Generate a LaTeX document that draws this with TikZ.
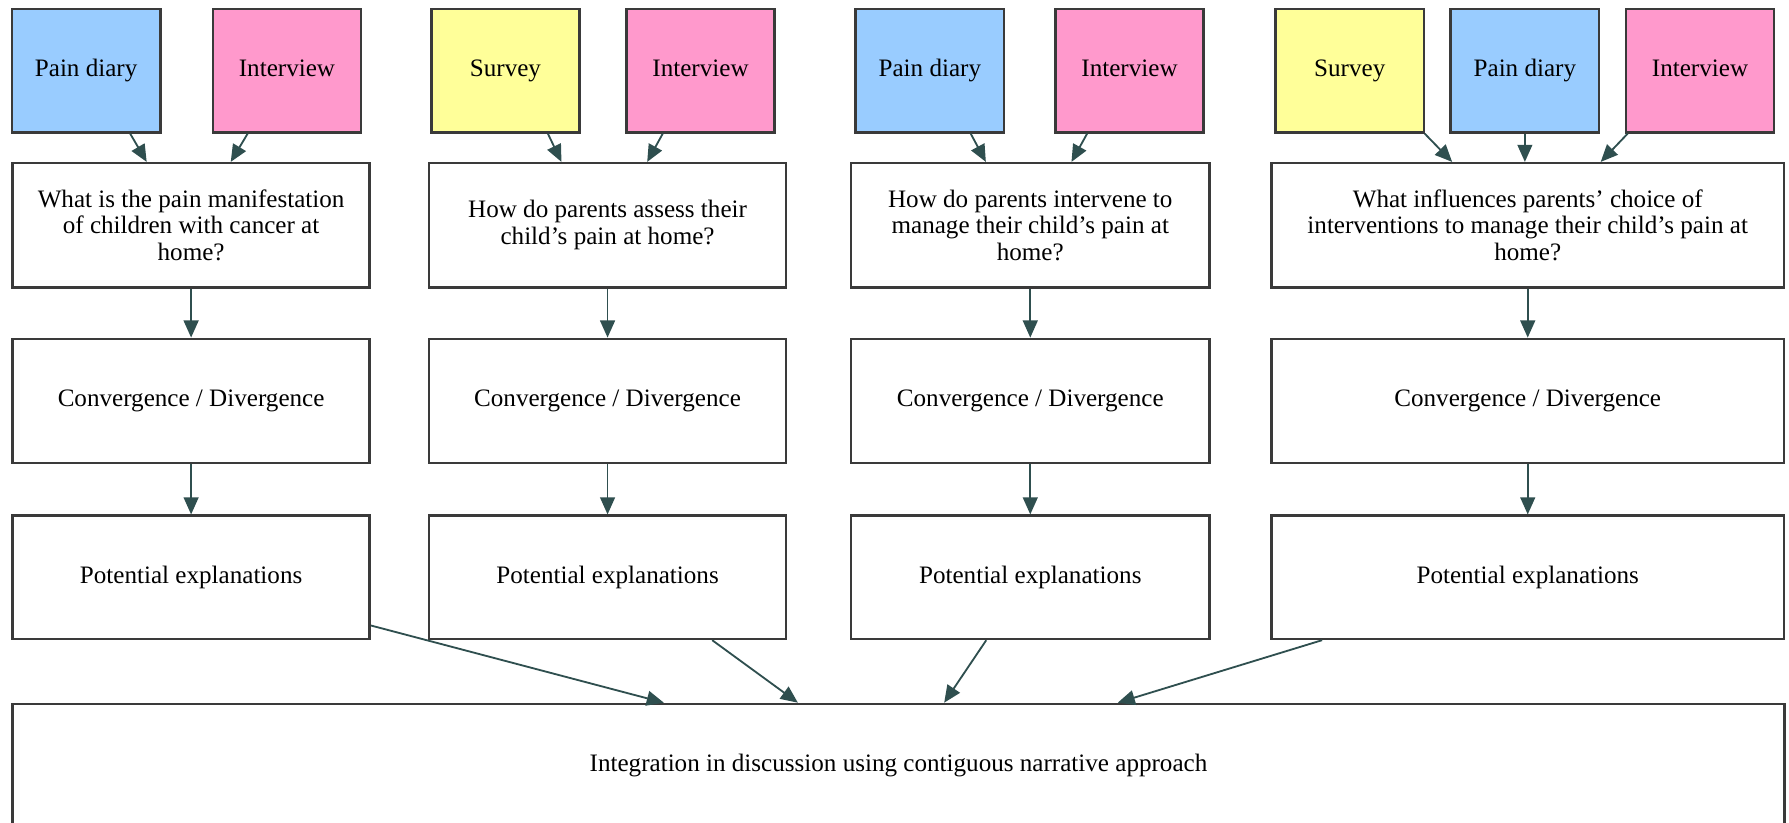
\documentclass[tikz,border=0pt]{standalone}
\usepackage{fontspec}
\setmainfont{Liberation Serif}
\usetikzlibrary{arrows.meta,positioning}
\definecolor{diaryblue}{HTML}{99CCFF}
\definecolor{interviewpink}{HTML}{FF99CC}
\definecolor{surveyyellow}{HTML}{FFFF99}
\definecolor{boxline}{HTML}{3A3A3A}
\definecolor{arrowslate}{HTML}{2F4F4F}

\tikzset{
box/.style={draw=boxline, line width=1.1pt, fill=white, align=center, inner sep=0pt,
  font=\fontsize{11}{11.75}\selectfont},
src/.style={box, minimum width=65pt, minimum height=54pt, text height=7.5pt, text depth=2.5pt},
diary/.style={src, fill=diaryblue},
interview/.style={src, fill=interviewpink},
survey/.style={src, fill=surveyyellow},
conn/.style={draw=arrowslate, line width=0.8pt, -{Triangle[length=7.5pt,width=6.5pt]}}
}

\begin{document}
\begin{tikzpicture}[x=0.5pt,y=-0.5pt]

\useasboundingbox (0,0) rectangle (1568,721);

\node[diary] (pd1) at (75.5,62) {Pain diary};
\node[interview] (iv1) at (251.5,62) {Interview};
\node[survey] (sv2) at (443,62) {Survey};
\node[interview] (iv2) at (614,62) {Interview};
\node[diary] (pd3) at (815,62) {Pain diary};
\node[interview] (iv3) at (990,62) {Interview};
\node[survey] (sv4) at (1183,62) {Survey};
\node[diary] (pd4) at (1336.5,62) {Pain diary};
\node[interview] (iv4) at (1490,62) {Interview};

\node[box, minimum width=156.5pt, minimum height=54.5pt] (q1) at (167.5,197.5)
  {What is the pain manifestation\\of children with cancer at\\home?};
\node[box, minimum width=156.5pt, minimum height=54.5pt] (q2) at (532.5,197.5)
  {How do parents assess their\\child’s pain at home?};
\node[box, minimum width=157pt, minimum height=54.5pt] (q3) at (903,197.5)
  {How do parents intervene to\\manage their child’s pain at\\home?};
\node[box, minimum width=224.5pt, minimum height=54.5pt] (q4) at (1339,197.5)
  {What influences parents’ choice of\\interventions to manage their child’s pain at\\home?};

\node[box, minimum width=156.5pt, minimum height=54.5pt] (c1) at (167.5,351.5) {Convergence / Divergence};
\node[box, minimum width=156.5pt, minimum height=54.5pt] (c2) at (532.5,351.5) {Convergence / Divergence};
\node[box, minimum width=157pt, minimum height=54.5pt] (c3) at (903,351.5) {Convergence / Divergence};
\node[box, minimum width=224.5pt, minimum height=54.5pt] (c4) at (1339,351.5) {Convergence / Divergence};

\node[box, minimum width=156.5pt, minimum height=54pt] (p1) at (167.5,506) {Potential explanations};
\node[box, minimum width=156.5pt, minimum height=54pt] (p2) at (532.5,506) {Potential explanations};
\node[box, minimum width=157pt, minimum height=54pt] (p3) at (903,506) {Potential explanations};
\node[box, minimum width=224.5pt, minimum height=54pt] (p4) at (1339,506) {Potential explanations};

\node[box, minimum width=776.5pt, minimum height=54pt] (integ) at (787.5,671)
  {Integration in discussion using contiguous narrative approach};

\draw[conn] (pd1.-55) -- (q1.125);
\draw[conn] (iv1.-122) -- (q1.58);
\draw[conn] (sv2.-56) -- (q2.126);
\draw[conn] (iv2.-121) -- (q2.58);
\draw[conn] (pd3.-57) -- (q3.125);
\draw[conn] (iv3.-124) -- (q3.57);
\draw[conn] (sv4.-40) -- (q4.140.5);
\draw[conn] (pd4.south) -- (pd4.south |- q4.north);
\draw[conn] (iv4.-139) -- (q4.41.3);

\draw[conn] (q1) -- (c1);
\draw[conn] (q2) -- (c2);
\draw[conn] (q3) -- (c3);
\draw[conn] (q4) -- (c4);

\draw[conn] (c1) -- (p1);
\draw[conn] (c2) -- (p2);
\draw[conn] (c3) -- (p3);
\draw[conn] (c4) -- (p4);

\draw[conn] (p1.-15) -- (integ.165.4);
\draw[conn] (p2.-31.7) -- (integ.148.3);
\draw[conn] (p3.-125.1) -- (integ.54.5);
\draw[conn] (p4.-163.6) -- (integ.16.2);

\end{tikzpicture}
\end{document}
